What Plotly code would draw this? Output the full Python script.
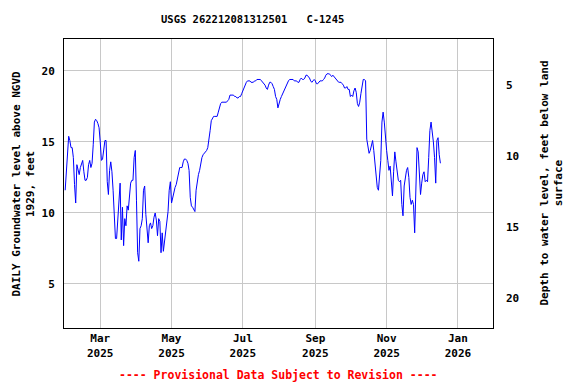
import pandas as pd
import plotly.graph_objects as go

# ---- data ----
start_date = "2025-01-30"          # first daily value
levels = [
    # Jan 30 - Feb 28
    11.6, 13.0, 14.4, 15.4, 15.1, 14.6, 14.6, 13.9, 12.0, 10.7,
    13.4, 13.0, 12.7, 13.2, 13.5, 13.7, 12.9, 12.3, 12.3, 12.5,
    13.4, 13.7, 13.2, 13.5, 14.8, 16.4, 16.6, 16.5, 16.3, 16.0,
    # Mar
    15.0, 13.7, 13.8, 14.6, 15.1, 15.1, 12.2, 11.3, 13.0, 13.6,
    12.9, 11.6, 9.2, 8.2, 8.2, 9.5, 11.1, 12.1, 8.1, 10.4,
    7.7, 9.6, 9.1, 10.5, 10.2, 11.5, 12.1, 12.3, 12.3, 13.9, 14.4,
    # Apr
    10.9, 7.2, 6.6, 8.9, 9.1, 9.6, 11.6, 11.9, 9.9, 8.5,
    7.9, 9.1, 9.3, 8.9, 9.1, 9.7, 10.0, 9.5, 8.4, 9.6,
    9.4, 7.2, 8.6, 7.3, 8.0, 8.7, 9.0, 10.1, 11.6, 12.2,
    # May
    10.7, 11.1, 11.5, 11.8, 12.0, 12.5, 12.9, 13.2, 13.2, 13.2,
    13.6, 13.8, 13.8, 13.7, 13.5, 13.0, 11.1, 10.5, 10.4, 10.2,
    10.1, 11.6, 12.3, 12.7, 13.0, 13.5, 13.9, 14.1, 14.2, 14.3, 14.4,
    # Jun
    14.6, 15.1, 15.8, 16.5, 16.7, 16.8, 16.8, 16.8, 16.8, 17.1,
    17.5, 17.7, 17.8, 17.8, 17.8, 17.8, 17.8, 17.9, 18.0, 18.3,
    18.3, 18.3, 18.3, 18.2, 18.2, 18.1, 18.1, 18.2, 18.2, 18.4,
    # Jul
    18.6, 18.9, 19.1, 19.2, 19.3, 19.3, 19.3, 19.2, 19.2, 19.2,
    19.3, 19.3, 19.4, 19.4, 19.4, 19.4, 19.3, 19.2, 19.1, 19.0,
    18.8, 18.7, 19.0, 19.2, 19.2, 19.1, 18.9, 18.7, 18.2, 18.0, 17.4,
    # Aug
    17.8, 18.0, 18.2, 18.4, 18.6, 18.8, 19.0, 19.2, 19.3, 19.4,
    19.4, 19.4, 19.4, 19.3, 19.3, 19.3, 19.2, 19.2, 19.4, 19.5,
    19.4, 19.4, 19.5, 19.7, 19.7, 19.6, 19.5, 19.3, 19.2, 19.3, 19.4,
    # Sep
    19.3, 19.1, 19.1, 19.2, 19.3, 19.3, 19.3, 19.4, 19.5, 19.7,
    19.8, 19.8, 19.8, 19.7, 19.6, 19.7, 19.6, 19.5, 19.4, 19.3,
    19.2, 19.2, 19.2, 19.1, 19.0, 18.8, 18.8, 18.9, 18.7, 18.7,
    # Oct
    18.2, 18.3, 18.2, 18.6, 18.8, 18.5, 17.7, 17.5, 17.8, 18.4,
    19.1, 19.4, 19.4, 19.3, 15.2, 14.6, 14.2, 14.4, 14.9, 15.1,
    14.4, 13.3, 12.3, 11.8, 11.6, 12.4, 13.7, 16.4, 17.1, 16.4, 15.0,
    # Nov
    14.4, 13.7, 13.0, 13.3, 12.2, 11.2, 12.9, 14.3, 13.6, 13.0,
    12.3, 12.2, 12.3, 10.6, 9.8, 11.9, 12.7, 13.0, 13.2, 12.5,
    11.1, 10.6, 10.9, 10.6, 8.6, 12.7, 14.6, 14.3, 12.3, 11.3,
    # Dec
    12.1, 12.7, 12.9, 12.2, 12.3, 12.2, 13.9, 15.8, 16.4, 15.8,
    15.0, 13.9, 12.1, 15.1, 15.3, 14.1, 13.5,
]
land_surface_elev = 24.0           # depth below land surface = elev - level

x_tick_dates = ["2025-03-01", "2025-05-01", "2025-07-01",
                "2025-09-01", "2025-11-01", "2026-01-01"]
x_tick_labels = ["Mar<br>2025", "May<br>2025", "Jul<br>2025",
                 "Sep<br>2025", "Nov<br>2025", "Jan<br>2026"]
left_ticks = [5, 10, 15, 20]
right_ticks = [5, 10, 15, 20]

title_text = "USGS 262212081312501   C-1245"
left_title = "DAILY Groundwater level above NGVD<br>1929, feet"
right_title = "Depth to water level, feet below land<br>surface"
footer_text = "---- Provisional Data Subject to Revision ----"

# ---- figure ----
dates = pd.date_range(start_date, periods=len(levels), freq="D")
depths = [land_surface_elev - v for v in levels]

FONT = "DejaVu Sans Mono"

fig = go.Figure()
fig.add_trace(go.Scatter(x=dates, y=levels, mode="lines",
                         line=dict(color="#0000ff", width=1),
                         yaxis="y", showlegend=False))
fig.add_trace(go.Scatter(x=dates, y=depths, mode="lines",
                         line=dict(color="rgba(0,0,0,0)", width=0),
                         yaxis="y2", showlegend=False, hoverinfo="skip"))

y_lo, y_hi = 1.90, 22.25

fig.update_layout(
    width=576, height=384,
    margin=dict(l=64, r=83, t=39, b=56, pad=0, autoexpand=False),
    paper_bgcolor="white", plot_bgcolor="white",
    font=dict(family=FONT, size=11, color="black", weight="bold"),
    showlegend=False,
    xaxis=dict(
        range=["2025-01-29", "2026-01-31"],
        tickvals=x_tick_dates, ticktext=x_tick_labels,
        showgrid=True, gridcolor="#c8c8c8", gridwidth=1,
        showline=True, linecolor="black", linewidth=1, mirror=True,
        ticks="", zeroline=False,
        tickfont=dict(family=FONT, size=11, weight="bold"),
    ),
    yaxis=dict(
        range=[y_lo, y_hi],
        tickvals=left_ticks,
        showgrid=True, gridcolor="#c8c8c8", gridwidth=1,
        showline=True, linecolor="black", linewidth=1, mirror=True,
        ticks="", zeroline=False, ticklabelstandoff=6,
        tickfont=dict(family=FONT, size=11, weight="bold"),
    ),
    yaxis2=dict(
        range=[land_surface_elev - y_lo, land_surface_elev - y_hi],
        overlaying="y", side="right",
        tickvals=right_ticks,
        showgrid=False, showline=False, zeroline=False,
        ticks="", ticklabelstandoff=12,
        tickfont=dict(family=FONT, size=11, weight="bold"),
    ),
)

fig.add_annotation(text=title_text, xref="paper", yref="paper",
                   x=(252 - 64) / 429, y=1 + 20 / 289,
                   xanchor="center", yanchor="middle", showarrow=False,
                   font=dict(family=FONT, size=10.5, weight="bold"))
fig.add_annotation(text=left_title, xref="paper", yref="paper",
                   x=(23 - 64) / 429, y=0.5, textangle=-90,
                   xanchor="center", yanchor="middle", showarrow=False,
                   font=dict(family=FONT, size=11, weight="bold"))
fig.add_annotation(text=right_title, xref="paper", yref="paper",
                   x=(551 - 64) / 429, y=0.5, textangle=-90,
                   xanchor="center", yanchor="middle", showarrow=False,
                   font=dict(family=FONT, size=11, weight="bold"))
fig.add_annotation(text=footer_text, xref="paper", yref="paper",
                   x=(278 - 64) / 429, y=-(375 - 328) / 289,
                   xanchor="center", yanchor="middle", showarrow=False,
                   font=dict(family=FONT, size=11.5, color="red", weight="bold"))

fig.write_html(
    "out.html",
    config={"displayModeBar": False},
    post_script="document.body.style.margin='0';"
                "document.body.style.overflow='hidden';",
)
